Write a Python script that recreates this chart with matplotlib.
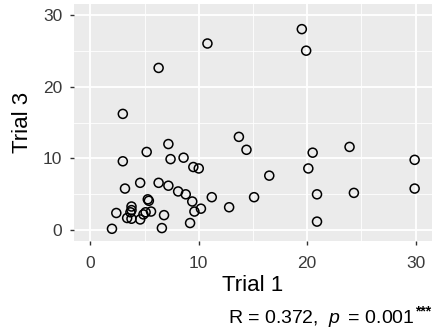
import matplotlib
matplotlib.use("Agg")
import matplotlib.pyplot as plt
from matplotlib.ticker import MultipleLocator

plt.rcParams["font.family"] = ["Liberation Sans", "DejaVu Sans"]
plt.rcParams["mathtext.fontset"] = "custom"
plt.rcParams["mathtext.rm"] = "Liberation Sans"
plt.rcParams["mathtext.it"] = "Liberation Sans:italic"

# values
trial1 = [10.8, 6.3, 3.0, 13.7, 14.4, 7.2, 5.2, 7.4, 8.6, 3.0,
          9.5, 10.0, 4.6, 6.3, 7.2, 3.2, 8.1, 8.8, 11.2, 5.3,
          5.4, 9.4, 12.8, 10.2, 3.8, 3.8, 3.7, 9.6, 5.6, 5.1,
          4.9, 2.4, 6.8, 3.4, 3.8, 4.6, 9.2, 2.0, 6.6,
          19.5, 19.9, 23.9, 20.5, 20.1, 16.5, 29.9, 15.1, 20.9,
          24.3, 29.9, 20.9]
trial3 = [26.0, 22.6, 16.2, 13.0, 11.2, 12.0, 10.9, 9.9, 10.1, 9.6,
          8.8, 8.6, 6.6, 6.6, 6.2, 5.8, 5.4, 5.0, 4.6, 4.3,
          4.1, 4.0, 3.2, 3.0, 3.3, 2.8, 2.5, 2.6, 2.6, 2.5,
          2.2, 2.4, 2.1, 1.7, 1.6, 1.5, 1.0, 0.2, 0.3,
          28.0, 25.0, 11.6, 10.8, 8.6, 7.6, 9.8, 4.6, 5.0,
          5.2, 5.8, 1.2]
r_value = 0.372
p_value = 0.001
stars = "***"

fig = plt.figure(figsize=(4.32, 3.35), dpi=100)
ax = fig.add_axes([74 / 432, 1 - 241 / 335, 358 / 432, 237 / 335])
ax.set_facecolor("#EBEBEB")

ax.scatter(trial1, trial3, s=42, facecolors="none", edgecolors="black",
           linewidths=1.1, zorder=3)

ax.set_xlim(-1.5, 31.5)
ax.set_ylim(-1.5, 31.5)
ax.xaxis.set_major_locator(MultipleLocator(10))
ax.yaxis.set_major_locator(MultipleLocator(10))
ax.xaxis.set_minor_locator(MultipleLocator(5))
ax.yaxis.set_minor_locator(MultipleLocator(5))
ax.grid(which="major", color="white", linewidth=1.3, zorder=0)
ax.grid(which="minor", color="white", linewidth=0.6, zorder=0)
ax.set_axisbelow(True)
for side in ax.spines.values():
    side.set_visible(False)
ax.tick_params(which="major", length=3, width=1, color="#333333",
               labelcolor="#3A3A3A", labelsize=12.5)
ax.tick_params(axis="x", pad=8)
ax.tick_params(axis="y", pad=5.5)
ax.tick_params(which="minor", length=0)

ax.set_xlabel("Trial 1", fontsize=16, labelpad=3)
ax.set_ylabel("Trial 3", fontsize=16, labelpad=7)

# caption: main part plus small raised stars
base_y = 1 - 323 / 335
star_txt = fig.text(431 / 432, base_y + 8 / 335, stars, ha="right",
                    va="baseline", fontsize=10, fontweight="bold")
fig.canvas.draw()
star_w = star_txt.get_window_extent().width
fig.text((431 - star_w) / 432, base_y,
         f"R = {r_value:.3f},  $p\\,$ = {p_value:.3f}",
         ha="right", va="baseline", fontsize=14)

fig.savefig("out.png", dpi=100)
